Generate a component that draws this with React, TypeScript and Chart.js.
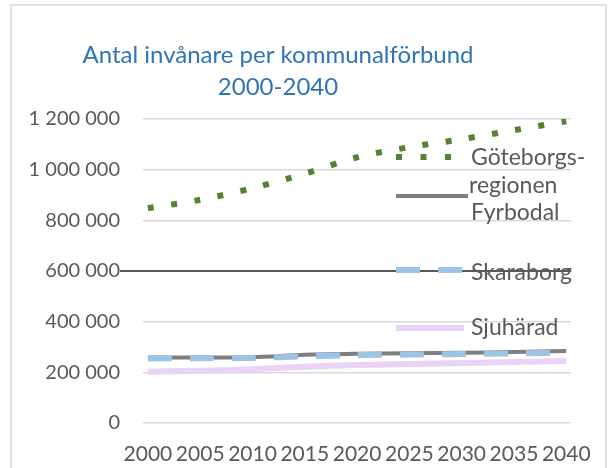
import React, { useEffect, useRef } from "react";
import { Chart, registerables } from "chart.js";

Chart.register(...registerables);

const years = [2000, 2005, 2010, 2015, 2020, 2025, 2030, 2035, 2040];
const goteborg = [848000, 881000, 927000, 984000, 1049000, 1089000, 1120000, 1156000, 1191000];
const fyrbodal = [259000, 259000, 260000, 269000, 273000, 275000, 277000, 280000, 284000];
const skaraborg = [255000, 256000, 257000, 263000, 268000, 270000, 272000, 275000, 277000];
const sjuharad = [202000, 206000, 212000, 222000, 229000, 233000, 237000, 241000, 245000];
const yTicks = [0, 200000, 400000, 600000, 800000, 1000000, 1200000];
const titleLines = ["Antal invånare per kommunalförbund", "2000-2040"];
const seriesNames = ["Göteborgs-regionen", "Fyrbodal", "Skaraborg", "Sjuhärad"];

const FONT = "Lato, 'Open Sans', sans-serif";
const TEXT = "#595959";
const GREEN = "#548235";
const GRAY = "#7F7F7F";
const BLUE = "#9DC3E6";
const PINK = "#EAD3F4";

const fmt = (v: number) => String(v).replace(/\B(?=(\d{3})+(?!\d))/g, " ");

const decor = {
  id: "decor",
  afterDraw(chart: any) {
    const ctx = chart.ctx;
    ctx.save();
    // frame
    ctx.strokeStyle = "#D9D9D9";
    ctx.lineWidth = 1.5;
    ctx.strokeRect(11, 5, 595, 480);

    // title
    ctx.fillStyle = "#2E75B6";
    ctx.font = `24px ${FONT}`;
    ctx.textAlign = "center";
    ctx.textBaseline = "alphabetic";
    ctx.fillText(titleLines[0], 278, 63);
    ctx.fillText(titleLines[1], 278, 95);

    // legend
    const x0 = 396;
    const x1 = 464;
    const drawSym = (y: number, color: string, w: number, dash: number[], end: number) => {
      ctx.beginPath();
      ctx.strokeStyle = color;
      ctx.lineWidth = w;
      ctx.lineCap = "butt";
      ctx.setLineDash(dash);
      ctx.moveTo(x0, y);
      ctx.lineTo(end, y);
      ctx.stroke();
      ctx.setLineDash([]);
    };
    drawSym(157, GREEN, 6, [6, 18.5], x1);
    drawSym(196, GRAY, 4, [], 468);
    drawSym(270, BLUE, 6, [24, 18], x1);
    drawSym(328, PINK, 6, [], x1);

    ctx.fillStyle = TEXT;
    ctx.font = `23px ${FONT}`;
    ctx.textAlign = "left";
    ctx.textBaseline = "middle";
    ctx.fillText("Göteborgs-", 471, 158);
    ctx.fillText("regionen", 469, 186);
    ctx.fillText(seriesNames[1], 471, 213);
    ctx.fillText(seriesNames[2], 471, 273);
    ctx.fillText(seriesNames[3], 471, 328);
    ctx.restore();
  },
};

export default function App() {
  const ref = useRef<HTMLCanvasElement>(null);
  useEffect(() => {
    if (!ref.current) return;
    const mk = (arr: number[]) => arr.map((v, i) => ({ x: years[i], y: v }));
    const chart = new Chart(ref.current, {
      type: "line",
      data: {
        datasets: [
          {
            label: seriesNames[0],
            data: mk(goteborg),
            borderColor: GREEN,
            borderWidth: 6,
            borderDash: [6, 17.5],
            borderCapStyle: "butt",
            pointRadius: 0,
            tension: 0.3,
            order: 0,
          },
          {
            label: seriesNames[1],
            data: mk(fyrbodal),
            borderColor: GRAY,
            borderWidth: 4,
            pointRadius: 0,
            tension: 0.3,
            order: 3,
          },
          {
            label: seriesNames[2],
            data: mk(skaraborg),
            borderColor: BLUE,
            borderWidth: 6,
            borderDash: [24, 18],
            borderCapStyle: "butt",
            pointRadius: 0,
            tension: 0.3,
            order: 2,
          },
          {
            label: seriesNames[3],
            data: mk(sjuharad),
            borderColor: PINK,
            borderWidth: 6,
            pointRadius: 0,
            tension: 0.3,
            order: 1,
          },
        ],
      },
      options: {
        animation: false,
        responsive: false,
        maintainAspectRatio: false,
        layout: { padding: { top: 119, right: 33, bottom: 0, left: 0 } },
        plugins: {
          legend: { display: false },
          title: { display: false },
          tooltip: { enabled: false },
        },
        scales: {
          x: {
            type: "linear",
            min: 1999.53,
            max: 2040.47,
            afterBuildTicks: (s: any) => {
              s.ticks = years.map((y) => ({ value: y }));
            },
            afterFit: (s: any) => {
              s.height = 45;
            },
            grid: { display: false, drawTicks: false },
            border: { display: false },
            ticks: {
              autoSkip: false,
              maxRotation: 0,
              padding: 19,
              color: TEXT,
              font: { family: FONT, size: 21 },
              callback: (v: any) => String(v),
            },
          },
          y: {
            min: 0,
            max: 1200000,
            afterBuildTicks: (s: any) => {
              s.ticks = yTicks.map((v) => ({ value: v }));
            },
            afterFit: (s: any) => {
              s.width = 143;
            },
            border: { display: false },
            grid: {
              color: (c: any) => (c.tick && c.tick.value === 600000 ? "#595959" : "#D9D9D9"),
              lineWidth: (c: any) => (c.tick && c.tick.value === 600000 ? 2 : 1.5),
              tickColor: (c: any) => (c.tick && c.tick.value === 600000 ? "#595959" : "rgba(0,0,0,0)"),
              drawTicks: true,
              tickLength: 23,
            },
            ticks: {
              padding: 0,
              color: TEXT,
              font: { family: FONT, size: 20 },
              callback: (v: any) => fmt(Number(v)),
            },
          },
        },
      },
      plugins: [decor],
    } as any);
    return () => chart.destroy();
  }, []);
  return (
    <div style={{ position: "absolute", left: 0, top: 0, width: 610, height: 468 }}>
      <canvas ref={ref} width={610} height={468} style={{ width: 610, height: 468, display: "block" }} />
    </div>
  );
}
